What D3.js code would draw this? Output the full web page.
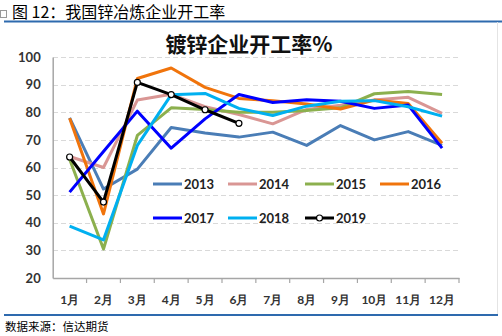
<!DOCTYPE html>
<html>
<head>
<meta charset="utf-8">
<script src="https://cdn.jsdelivr.net/npm/d3@7/dist/d3.min.js"></script>
<style>
  html, body { margin: 0; padding: 0; background: #fff; }
  svg { display: block; }
</style>
</head>
<body>
<svg id="chart" width="502" height="336"></svg>
<script>
// Monthly operating rate of galvanizing plants, by year (%)
const months = ["1月","2月","3月","4月","5月","6月","7月","8月","9月","10月","11月","12月"];
const years = ["2013","2014","2015","2016","2017","2018","2019"];
const yTicks = [20,30,40,50,60,70,80,90,100];

const rate2013 = [78.0, 52.2, 59.4, 74.5, 72.5, 71.0, 72.8, 68.0, 75.2, 70.0, 73.0, 68.0];
const rate2014 = [64.0, 60.0, 84.4, 86.5, 82.0, 79.2, 75.8, 81.0, 82.5, 84.4, 85.4, 79.6];
const rate2015 = [63.0, 30.5, 71.6, 81.6, 81.0, 80.0, 80.0, 80.6, 81.6, 86.7, 87.5, 86.4];
const rate2016 = [77.8, 43.2, 92.2, 96.0, 89.0, 85.0, 84.2, 83.0, 81.2, 84.4, 83.2, 68.8];
const rate2017 = [51.1, 65.8, 80.4, 67.0, 77.6, 86.4, 83.5, 84.5, 84.0, 81.4, 82.6, 67.0];
const rate2018 = [38.8, 33.8, 68.0, 86.3, 86.8, 81.4, 78.8, 82.2, 84.0, 84.2, 82.0, 78.6];
const rate2019 = [63.8, 47.5, 90.8, 86.4, 80.9, 76.0];

const seriesValues = [rate2013, rate2014, rate2015, rate2016, rate2017, rate2018, rate2019];
const seriesColors = ["#4A7DB6", "#D99694", "#8CB04E", "#F0740C", "#0000FF", "#00B0F0", "#000000"];

const svg = d3.select("#chart");

// Page header with the blue rule beneath it
svg.append("rect").attr("x", 0.5).attr("y", 10.5).attr("width", 6).attr("height", 7)
  .attr("fill", "#fff").attr("stroke", "#9a9a9a").attr("stroke-width", 1);
svg.append("text").attr("x", 12).attr("y", 18)
  .attr("font-family", "'Noto Sans CJK SC', sans-serif").attr("font-size", 16)
  .attr("fill", "#000").text("图 12：我国锌冶炼企业开工率");
svg.append("line").attr("x1", 4).attr("x2", 502).attr("y1", 21.5).attr("y2", 21.5)
  .attr("stroke", "#2E6AAE").attr("stroke-width", 2);

// Chart frame edge on the right
svg.append("line").attr("x1", 497.5).attr("x2", 497.5).attr("y1", 22).attr("y2", 314)
  .attr("stroke", "#E4E4E4").attr("stroke-width", 1);

// Chart title
svg.append("text").attr("x", 249).attr("y", 52).attr("text-anchor", "middle")
  .attr("font-family", "'Noto Sans CJK SC', sans-serif").attr("font-weight", 700)
  .attr("font-size", 21).attr("fill", "#111").text("镀锌企业开工率%");

// Scales
const x = d3.scaleBand().domain(months).range([52.7, 459]).padding(0);
const y = d3.scaleLinear().domain([20, 100]).range([278, 57]);
const cx = m => x(m) + x.bandwidth() / 2;

const labelFont = "Lato, 'Open Sans', sans-serif";

// Horizontal dashed gridlines
svg.append("g").selectAll("line").data(yTicks.filter(t => t > 20)).join("line")
  .attr("x1", 53).attr("x2", 459)
  .attr("y1", d => Math.round(y(d)) + 0.5).attr("y2", d => Math.round(y(d)) + 0.5)
  .attr("stroke", "#D9D9D9").attr("stroke-width", 1).attr("stroke-dasharray", "5,3");

// Y axis
const yAxis = svg.append("g").attr("transform", "translate(52.7,0)")
  .call(d3.axisLeft(y).tickValues(yTicks).tickSize(0).tickPadding(12));
yAxis.select(".domain").attr("stroke", "#A6A6A6").attr("stroke-width", 1.5);
yAxis.selectAll("text").attr("font-family", labelFont).attr("font-weight", 700)
  .attr("font-size", 13).attr("fill", "#333");

// X axis: labels at band centres, tick marks at band boundaries
const xAxis = svg.append("g").attr("transform", "translate(0,278)")
  .call(d3.axisBottom(x).tickSize(0).tickPadding(17));
xAxis.select(".domain").attr("stroke", "#A6A6A6").attr("stroke-width", 1.5);
xAxis.selectAll("text").attr("font-family", labelFont).attr("font-weight", 700)
  .attr("font-size", 12).attr("fill", "#333");
const bounds = months.map(m => x(m)).concat([x(months[months.length - 1]) + x.step()]);
xAxis.append("g").selectAll("line").data(bounds.slice(1)).join("line")
  .attr("x1", d => d).attr("x2", d => d).attr("y1", 0).attr("y2", 5)
  .attr("stroke", "#A6A6A6").attr("stroke-width", 1.2);

// Series lines
const line = d3.line().x((d, i) => cx(months[i])).y(d => y(d));
const lines = svg.append("g");
seriesValues.forEach((vals, k) => {
  lines.append("path").datum(vals)
    .attr("fill", "none").attr("stroke", seriesColors[k])
    .attr("stroke-width", 3).attr("stroke-linejoin", "round")
    .attr("d", line);
});

// Markers on the 2019 series
lines.append("g").selectAll("circle").data(rate2019).join("circle")
  .attr("cx", (d, i) => cx(months[i])).attr("cy", d => y(d)).attr("r", 3)
  .attr("fill", "#fff").attr("stroke", "#000").attr("stroke-width", 1.2);

// Legend
const legendPos = [
  [153, 184], [228, 184], [305, 184], [380, 184],
  [153, 218], [228, 218], [305, 218]
];
const legend = svg.append("g");
years.forEach((yr, k) => {
  const [lx, ly] = legendPos[k];
  legend.append("line").attr("x1", lx).attr("x2", lx + 29).attr("y1", ly).attr("y2", ly)
    .attr("stroke", seriesColors[k]).attr("stroke-width", 3);
  if (yr === "2019") {
    legend.append("circle").attr("cx", lx + 14.5).attr("cy", ly).attr("r", 3)
      .attr("fill", "#fff").attr("stroke", "#000").attr("stroke-width", 1.2);
  }
  legend.append("text").attr("x", lx + 31).attr("y", ly + 4.5)
    .attr("font-family", labelFont).attr("font-weight", 700).attr("font-size", 13)
    .attr("fill", "#222").text(yr);
});

// Bottom rule and source note
svg.append("line").attr("x1", 4).attr("x2", 498).attr("y1", 315).attr("y2", 315)
  .attr("stroke", "#2E6AAE").attr("stroke-width", 2);
svg.append("text").attr("x", 5).attr("y", 331)
  .attr("font-family", "'Noto Sans CJK SC', sans-serif").attr("font-size", 11.5)
  .attr("fill", "#000").text("数据来源：信达期货");
</script>
</body>
</html>
